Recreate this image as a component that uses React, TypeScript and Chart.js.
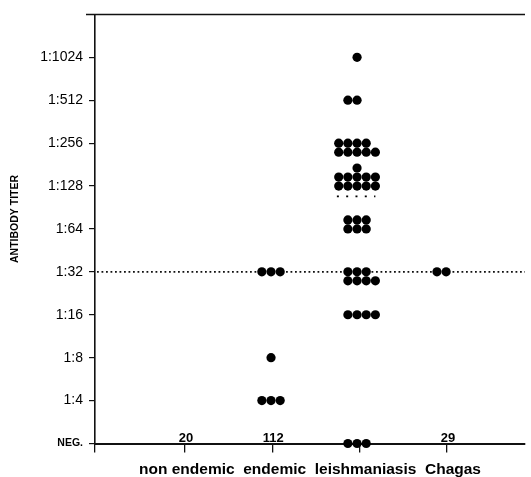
import { useEffect, useRef } from 'react';
import { Chart, registerables } from 'chart.js';

Chart.register(...registerables);

// ---------- data ----------
const titerLabels = ['NEG.', '1:4', '1:8', '1:16', '1:32', '1:64', '1:128', '1:256', '1:512', '1:1024'];
const groupNames = ['non endemic', 'endemic', 'leishmaniasis', 'Chagas'];
// number of sera at each titer level (index = titerLabels index)
const nonEndemicCounts = [20, 0, 0, 0, 0, 0, 0, 0, 0, 0];
const endemicCounts = [112, 3, 1, 0, 3, 0, 0, 0, 0, 0];
const leishmaniasisCounts = [3, 0, 0, 4, 7, 6, 11, 9, 2, 1];
const chagasCounts = [29, 0, 0, 0, 2, 0, 0, 0, 0, 0];
// negatives printed as a number instead of dots
const negAsNumber = [true, true, false, true];
const cutoffTiter = 4; // 1:32
const leishMedianTiter = 5.76;
const yTitle = 'ANTIBODY TITER';

// ---------- dot arrangement (layout only) ----------
const FONT = "'Liberation Sans', Arial, sans-serif";
const DX = 0.105; // horizontal dot step (x units)
const DY = 0.21; // vertical dot step (y units)
const dotNudge = [0, -0.015, -0.03, -0.01];
// [row offset, first slot, dots in row]
const leishRows: Record<number, [number, number, number][]> = {
  0: [[0, -1, 3]],
  3: [[0, -1, 4]],
  4: [[0, -1, 3], [-1, -1, 4]],
  5: [[0, -1, 3], [1, -1, 3]],
  6: [[0, -2, 5], [1, -2, 5], [2, 0, 1]],
  7: [[-1, -2, 5], [0, -2, 4]],
  8: [[0, -1, 2]],
  9: [[0, 0, 1]],
};
const dotRows: Record<number, [number, number, number][]>[] = [{}, {}, leishRows, {}];
const allCounts = [nonEndemicCounts, endemicCounts, leishmaniasisCounts, chagasCounts];

function buildDots(gi: number) {
  const pts: { x: number; y: number }[] = [];
  allCounts[gi].forEach((n, level) => {
    if (n === 0) return;
    if (level === 0 && negAsNumber[gi]) return;
    const rows = dotRows[gi][level] ?? [[0, -Math.floor(n / 2), n]];
    let left = n;
    for (const [row, first, k] of rows) {
      for (let j = 0; j < k && left > 0; j++, left--) {
        pts.push({ x: gi + 1 + dotNudge[gi] + (first + j) * DX, y: level + row * DY });
      }
    }
  });
  return pts;
}

const decorPlugin = {
  id: 'decor',
  beforeDatasetsDraw(chart: any) {
    const { ctx, chartArea, scales } = chart;
    ctx.save();
    // top frame line
    ctx.strokeStyle = '#111';
    ctx.lineWidth = 1.5;
    ctx.beginPath();
    ctx.moveTo(chartArea.left - 9, chartArea.top);
    ctx.lineTo(chartArea.right, chartArea.top);
    ctx.stroke();
    // cutoff dotted line
    const y = scales.y.getPixelForValue(cutoffTiter);
    ctx.setLineDash([1.8, 2.7]);
    ctx.lineWidth = 1.7;
    ctx.strokeStyle = '#111';
    ctx.beginPath();
    ctx.moveTo(chartArea.left + 2, y);
    ctx.lineTo(chartArea.right, y);
    ctx.stroke();
    ctx.restore();
    // y axis title
    ctx.save();
    ctx.fillStyle = '#000';
    ctx.font = `bold 10.5px ${FONT}`;
    ctx.textAlign = 'center';
    ctx.textBaseline = 'middle';
    ctx.translate(15, (chartArea.top + chartArea.bottom) / 2 - 10);
    ctx.rotate(-Math.PI / 2);
    ctx.fillText(yTitle, 0, 0);
    ctx.restore();
  },
  afterDatasetsDraw(chart: any) {
    const { ctx, scales } = chart;
    ctx.save();
    ctx.fillStyle = '#000';
    ctx.font = `bold 13px ${FONT}`;
    ctx.textAlign = 'center';
    ctx.textBaseline = 'alphabetic';
    allCounts.forEach((c, gi) => {
      if (!negAsNumber[gi]) return;
      ctx.fillText(String(c[0]), scales.x.getPixelForValue(gi + 1) + 1, scales.y.getPixelForValue(0) - 2);
    });
    ctx.restore();
  },
};

export default function App() {
  const ref = useRef<HTMLCanvasElement>(null);
  useEffect(() => {
    const lx = 3 + dotNudge[2];
    const chart = new Chart(ref.current!, {
      type: 'scatter',
      data: {
        datasets: [
          ...groupNames.map((g, gi) => ({
            label: g,
            data: buildDots(gi),
            backgroundColor: '#000',
            borderColor: '#000',
            borderWidth: 0,
            pointRadius: 4.6,
            pointHoverRadius: 4.6,
            clip: false as any,
          })),
          {
            type: 'line' as any,
            label: 'leishmaniasis median',
            data: [
              { x: lx - 2.2 * DX, y: leishMedianTiter },
              { x: lx + 2.0 * DX, y: leishMedianTiter },
            ],
            borderColor: '#000',
            borderWidth: 1.8,
            borderDash: [2, 7.3],
            pointRadius: 0,
            showLine: true,
          },
        ],
      },
      options: {
        animation: false,
        responsive: false,
        layout: { padding: { top: 12, right: 6, left: 0, bottom: 0 } },
        plugins: { legend: { display: false }, tooltip: { enabled: false } },
        scales: {
          x: {
            type: 'linear',
            min: -0.0305,
            max: 4.893,
            afterBuildTicks: (s: any) => {
              s.ticks = [s.min, 1, 2, 3, 4].map((v: number) => ({ value: v }));
            },
            afterFit: (s: any) => {
              s.height = 33.5;
            },
            ticks: { callback: () => '' },
            grid: { drawOnChartArea: false, drawTicks: true, tickLength: 9, color: '#111', lineWidth: 1.3 },
            border: { display: true, color: '#111', width: 1.9 },
            title: {
              display: true,
              text: groupNames.join('  '),
              color: '#000',
              font: { family: FONT, size: 15.5, weight: 'bold', lineHeight: 1 },
              padding: { top: 0, bottom: 0 },
            },
          },
          y: {
            type: 'linear',
            min: 0,
            max: 10,
            afterBuildTicks: (s: any) => {
              s.ticks = titerLabels.map((_, i) => ({ value: i }));
            },
            afterFit: (s: any) => {
              s.width = 95;
            },
            ticks: {
              padding: 6,
              color: '#000',
              callback: (v: any) => titerLabels[Math.round(Number(v))] ?? '',
              font: (ctx: any) =>
                ctx.tick && ctx.tick.value === 0
                  ? { family: FONT, size: 10.5, weight: 'bold' }
                  : { family: FONT, size: 14 },
            },
            grid: { drawOnChartArea: false, drawTicks: true, tickLength: 6, color: '#111', lineWidth: 1.2 },
            border: { display: true, color: '#111', width: 1.6 },
            title: { display: false },
          },
        },
      },
      plugins: [decorPlugin],
    } as any);
    return () => chart.destroy();
  }, []);
  return (
    <div style={{ position: 'fixed', left: 0, top: 0, width: 531, height: 477, background: '#fff' }}>
      <canvas ref={ref} width={531} height={477} style={{ display: 'block', width: 531, height: 477 }} />
    </div>
  );
}
